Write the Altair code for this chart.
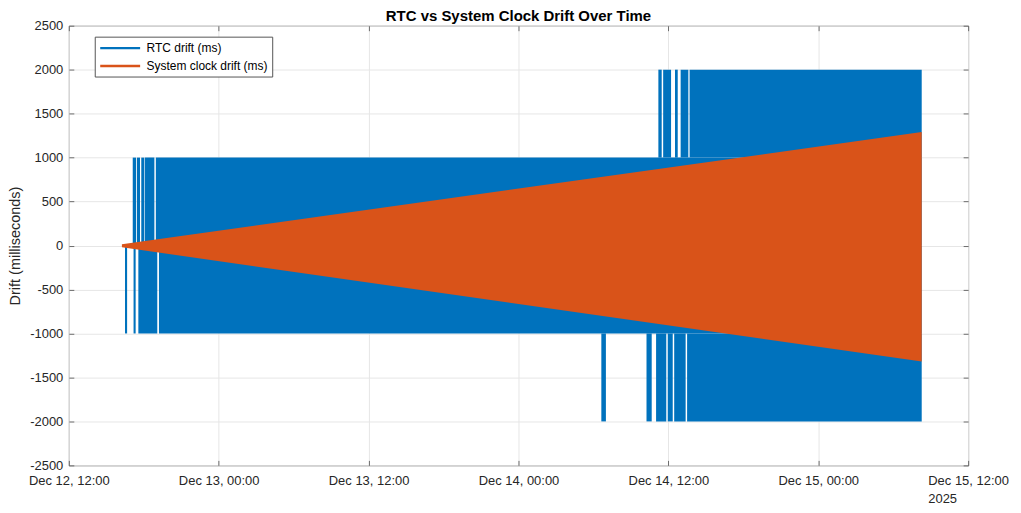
import altair as alt
import pandas as pd

# ---------------- data ----------------
series_names = ["RTC drift (ms)", "System clock drift (ms)"]
series_colors = ["#0072BD", "#D95319"]

# RTC drift, +-1000 ms band: filled spans (start, end, top, bottom)
band_start = ["2025-12-12T16:30", "2025-12-12T17:07", "2025-12-12T17:11",
              "2025-12-12T17:27", "2025-12-12T17:34", "2025-12-12T17:48",
              "2025-12-12T18:06", "2025-12-12T18:58", "2025-12-12T19:13"]
band_end = ["2025-12-12T16:40", "2025-12-12T17:23", "2025-12-12T17:21",
            "2025-12-12T17:42", "2025-12-12T19:05", "2025-12-12T18:03",
            "2025-12-12T18:51", "2025-12-15T08:17", "2025-12-15T08:17"]
band_high = [0, 1000, 0, 1000, 0, 1000, 1000, 1000, 0]
band_low = [-1000, 0, -1000, 0, -1000, 0, 0, 0, -1000]

# RTC drift, +-2000 ms excursions
wide_start = ["2025-12-14T11:12", "2025-12-14T11:35", "2025-12-14T12:32",
              "2025-12-14T12:59", "2025-12-14T13:42",
              "2025-12-14T06:38", "2025-12-14T10:15", "2025-12-14T11:01",
              "2025-12-14T11:57", "2025-12-14T12:28", "2025-12-14T13:30"]
wide_end = ["2025-12-14T11:28", "2025-12-14T12:13", "2025-12-14T12:45",
            "2025-12-14T13:36", "2025-12-15T08:17",
            "2025-12-14T07:00", "2025-12-14T10:40", "2025-12-14T11:50",
            "2025-12-14T12:21", "2025-12-14T13:23", "2025-12-15T08:17"]
wide_high = [2000, 2000, 2000, 2000, 2000, -1000, -1000, -1000, -1000, -1000, -1000]
wide_low = [1000, 1000, 1000, 1000, 1000, -2000, -2000, -2000, -2000, -2000, -2000]

# System clock drift envelope
sys_time = ["2025-12-12T16:15", "2025-12-15T08:17"]
sys_high = [15, 1290]
sys_low = [-20, -1320]

# axes
y_ticks = [-2500, -2000, -1500, -1000, -500, 0, 500, 1000, 1500, 2000, 2500]
x_tick_day = [12, 13, 13, 14, 14, 15, 15]
x_tick_hour = [12, 0, 12, 0, 12, 0, 12]
year_label = "2025"

# ---------------- build tables ----------------
band_df = pd.DataFrame({"start": band_start, "end": band_end,
                        "high": band_high, "low": band_low,
                        "series": series_names[0]})
wide_df = pd.DataFrame({"start": wide_start, "end": wide_end,
                        "high": wide_high, "low": wide_low,
                        "series": series_names[0]})
sys_df = pd.DataFrame({"time": sys_time, "high": sys_high, "low": sys_low,
                       "series": series_names[1]})

FONT = "Liberation Sans"
TXT = "#262626"

x_values = [alt.DateTime(year=2025, month=12, date=d, hours=h)
            for d, h in zip(x_tick_day, x_tick_hour)]
x_scale = alt.Scale(domain=[x_values[0], x_values[-1]])
y_scale = alt.Scale(domain=[y_ticks[0], y_ticks[-1]], nice=False, zero=False)

color_scale = alt.Scale(domain=series_names, range=series_colors)
legend = alt.Legend(title=None, orient="none", legendX=26, legendY=11,
                    symbolType="M-1,0H5.67", symbolSize=144, symbolStrokeWidth=2.5,
                    labelFontSize=12, labelFont=FONT, labelColor="black",
                    labelOffset=33, padding=4, rowPadding=4,
                    strokeColor="#555555", fillColor="white")

last_tick = "timeFormat(datum.value, '%d %H') == '15 12'"
main_x_axis = alt.Axis(orient="bottom", values=x_values, format="%b %d, %H:%M",
                       labelExpr=last_tick + " ? [datum.label, '" + year_label + "'] : datum.label",
                       labelAlign={"condition": {"test": last_tick, "value": "left"},
                                   "value": "center"},
                       labelOffset={"condition": {"test": last_tick, "value": -40.5},
                                    "value": 0},
                       grid=True, gridColor="#e6e6e6", ticks=False, domain=False,
                       title=None, labelFontSize=13, labelFont=FONT, labelColor=TXT,
                       labelPadding=9, labelLineHeight=18, labelFlush=False,
                       labelOverlap=False)
main_y_axis = alt.Axis(orient="left", values=y_ticks, labelExpr="toString(datum.value)",
                       grid=True, gridColor="#e6e6e6", ticks=False, domain=False,
                       title="Drift (milliseconds)", titleFontSize=14.5, titleFont=FONT,
                       titleFontWeight="normal", titleColor=TXT, titlePadding=7,
                       labelFontSize=13, labelFont=FONT, labelColor=TXT,
                       labelPadding=6, labelOverlap=False, labelFlush=False)


def tick_axis(orient, values):
    return alt.Axis(orient=orient, offset=-5, values=values, tickSize=5, ticks=True,
                    tickColor="#4d4d4d", tickWidth=0.8, labels=False, domain=False,
                    grid=False, title=None)


def colour(field_chan):
    return field_chan("series:N", scale=color_scale, legend=legend)


band = alt.Chart(band_df).mark_rect().encode(
    x=alt.X("start:T", scale=x_scale, axis=main_x_axis),
    x2="end:T",
    y=alt.Y("high:Q", scale=y_scale, axis=main_y_axis),
    y2="low:Q",
    color=colour(alt.Color),
    stroke=colour(alt.Stroke),
    strokeWidth=alt.value(0),
)

wide = alt.Chart(wide_df).mark_rect().encode(
    x=alt.X("start:T", scale=x_scale, axis=tick_axis("top", x_values)),
    x2="end:T",
    y=alt.Y("high:Q", scale=y_scale, axis=tick_axis("right", y_ticks)),
    y2="low:Q",
    color=colour(alt.Color),
    stroke=colour(alt.Stroke),
    strokeWidth=alt.value(0),
)

sysc = alt.Chart(sys_df).mark_area().encode(
    x=alt.X("time:T", scale=x_scale, axis=tick_axis("bottom", x_values)),
    y=alt.Y("high:Q", scale=y_scale, axis=tick_axis("left", y_ticks)),
    y2="low:Q",
    color=colour(alt.Color),
    stroke=colour(alt.Stroke),
    strokeWidth=alt.value(0),
)

chart = alt.layer(band, wide, sysc).resolve_axis(
    x="independent", y="independent"
).properties(
    width=902, height=441,
    title=alt.TitleParams("RTC vs System Clock Drift Over Time", fontSize=15,
                          font=FONT, fontWeight="bold", color="black",
                          anchor="middle", offset=-4),
    autosize=alt.AutoSizeParams(type="none"),
    padding={"left": 61, "top": 17, "right": 45, "bottom": 40},
    background="white",
).configure_view(stroke="#808080", strokeWidth=1)

chart.save("out.html", embed_options={"renderer": "svg", "actions": False})
